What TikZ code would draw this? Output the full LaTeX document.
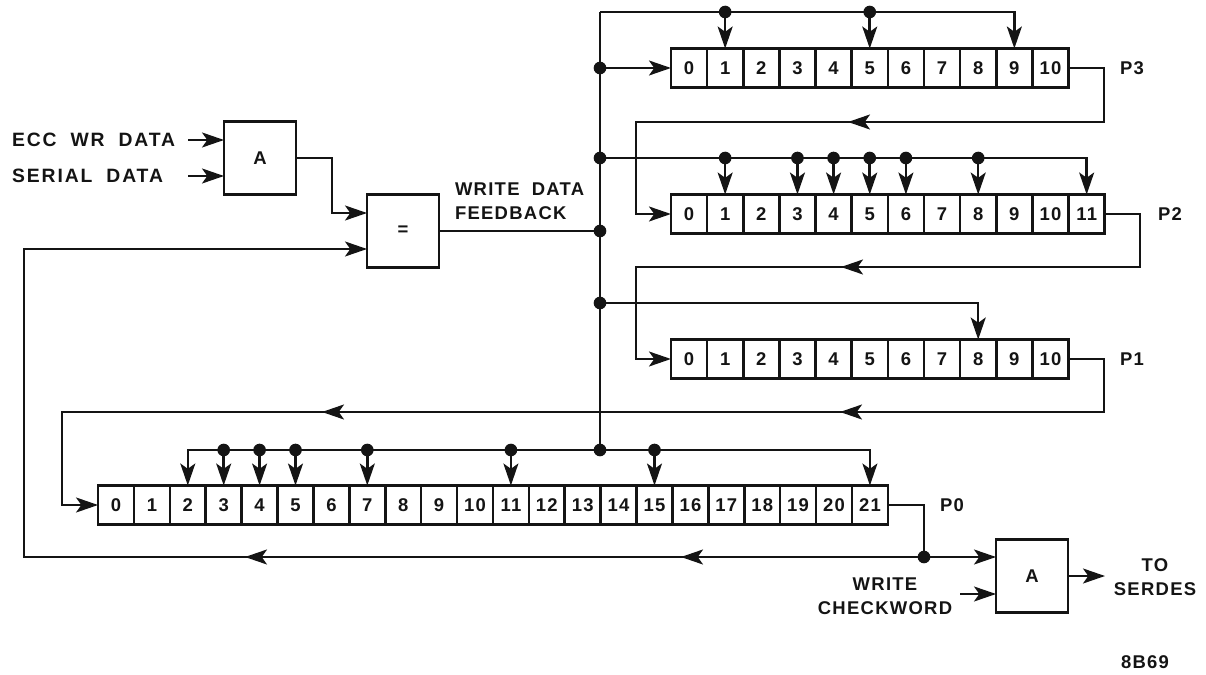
\documentclass[tikz,border=0pt]{standalone}
\usepackage{fontspec}
\setmainfont{Liberation Sans}[LetterSpace=7, WordSpace=1.9]
\usepackage{xcolor}
\usetikzlibrary{positioning, arrows.meta, calc}
\definecolor{inkcolor}{HTML}{141414}
\tikzset{
  wire/.style={draw=inkcolor, line width=1.45pt},
  arrowwire/.style={wire, -{Stealth[length=12.5pt, width=8.5pt, inset=3pt]}},
  cell/.style={draw=inkcolor, line width=1.45pt, fill=white, minimum width=0.722cm, minimum height=0.78cm, inner sep=0pt, outer sep=0pt, text=inkcolor},
  pcell/.style={cell, minimum width=0.718cm},
  gate/.style={draw=inkcolor, line width=1.45pt, fill=white, minimum width=1.44cm, minimum height=1.46cm, inner sep=0pt, outer sep=0pt, text=inkcolor},
  joint/.style={circle, fill=inkcolor, minimum size=7.2pt, inner sep=0pt, outer sep=0pt},
  lbl/.style={text=inkcolor, inner sep=0pt, outer sep=0pt, align=center},
  inlbl/.style={lbl, anchor=west, font=\fontsize{11}{13}\selectfont\bfseries\addfontfeature{LetterSpace=10}},
}
\begin{document}
\begin{tikzpicture}[x=0.02cm, y=-0.02cm, every node/.style={font=\fontsize{10.5}{12.5}\selectfont\bfseries}]
        \useasboundingbox (0,0) rectangle (1206,675);

        % Shift registers
        \foreach \i in {0,...,10} \node[cell] (p3c\i) at ({689+36.15*\i},68) {\i};
        \foreach \i in {0,...,11} \node[cell] (p2c\i) at ({689+36.15*\i},214) {\i};
        \foreach \i in {0,...,10} \node[cell] (p1c\i) at ({689+36.15*\i},359) {\i};
        \foreach \i in {0,...,21} \node[pcell] (p0c\i) at ({116+35.9*\i},505) {\i};

        % Gates
        \node[gate] (andin) at (260,158) {A};
        \node[gate] (eq) at (403,231) {=};
        \node[gate] (andout) at (1032,576) {A};

        % Labels
        \node[inlbl] (ecc) at (12,140) {ECC WR DATA};
        \node[inlbl] (serial) at (12,176) {SERIAL DATA};
        \node[lbl, anchor=west, align=left] (wdf) at (455,201) {WRITE DATA\\[1pt]FEEDBACK};
        \node[lbl, anchor=west] (lp3) at (1120,68) {P3};
        \node[lbl, anchor=west] (lp2) at (1158,214) {P2};
        \node[lbl, anchor=west] (lp1) at (1120,359) {P1};
        \node[lbl, anchor=west] (lp0) at (940,505) {P0};
        \node[lbl] (chk) at (885,596) {WRITE\\[1pt]CHECKWORD};
        \node[lbl] (serdes) at (1155,577) {TO\\[1pt]SERDES};
        \node[lbl] (fig) at (1145,662) {8B69};

        % Data bus
        \coordinate (bustop) at (600,12);
        \node[joint] (jp3) at (600,68) {};
        \node[joint] (j3) at (600,158) {};
        \node[joint] (jwd) at (600,231) {};
        \node[joint] (j1) at (600,303) {};
        \node[joint] (j0) at (600,450) {};
        \draw[wire] (bustop) -- (j0);
        \draw[wire] (eq) -- (jwd);

        % Taps -- P3
        \draw[arrowwire] (bustop) -| (p3c9.north);
        \foreach \c in {1,5} {
          \node[joint] (t3\c) at (p3c\c |- bustop) {};
          \draw[arrowwire] (t3\c) -- (p3c\c.north);
        }
        % Taps -- P2
        \draw[arrowwire] (j3) -| (p2c11.north);
        \foreach \c in {1,3,4,5,6,8} {
          \node[joint] (t2\c) at (p2c\c |- j3) {};
          \draw[arrowwire] (t2\c) -- (p2c\c.north);
        }
        % Taps -- P1
        \draw[arrowwire] (j1) -| (p1c8.north);
        % Taps -- P0
        \draw[arrowwire] (j0) -| (p0c2.north);
        \draw[arrowwire] (j0) -| (p0c21.north);
        \foreach \c in {3,4,5,7,11,15} {
          \node[joint] (t0\c) at (p0c\c |- j0) {};
          \draw[arrowwire] (t0\c) -- (p0c\c.north);
        }

        % Register chain
        \draw[arrowwire] (jp3) -- (p3c0.west);
        \coordinate (r3) at (1104,122);
        \coordinate (l3) at (636,122);
        \coordinate (m3) at (848,122);
        \draw[arrowwire] (p3c10.east) -| (r3) -- (l3) |- (p2c0.west);
        \draw[arrowwire] (r3) -- (m3);
        \coordinate (r2) at (1140,267);
        \coordinate (l2) at (636,267);
        \coordinate (m2) at (841,267);
        \draw[arrowwire] (p2c11.east) -| (r2) -- (l2) |- (p1c0.west);
        \draw[arrowwire] (r2) -- (m2);
        \coordinate (r1) at (1104,412);
        \coordinate (l1) at (62,412);
        \coordinate (m1) at (840,412);
        \coordinate (m0) at (322,412);
        \draw[arrowwire] (p1c10.east) -| (r1) -- (l1) |- (p0c0.west);
        \draw[arrowwire] (r1) -- (m1);
        \draw[arrowwire] (m1) -- (m0);

        % Feedback and output
        \node[joint] (jout) at (924,557) {};
        \coordinate (fl) at (24,557);
        \coordinate (m4) at (681,557);
        \coordinate (m5) at (245,557);
        \draw[wire] (p0c21.east) -| (jout);
        \draw[arrowwire] (jout) -- (fl) |- (eq.west |- 0,249);
        \draw[arrowwire] (jout) -- (m4);
        \draw[arrowwire] (m4) -- (m5);
        \draw[arrowwire] (jout) -- (andout.west |- jout);

        % Inputs
        \coordinate (eccin) at (188,140);
        \coordinate (serin) at (188,176);
        \coordinate (chkin) at (960,594);
        \coordinate (toout) at (1105,576);
        \draw[arrowwire] (eccin) -- (andin.west |- eccin);
        \draw[arrowwire] (serin) -- (andin.west |- serin);
        \draw[arrowwire] (andin) -| (332,213) -- (eq.west |- 0,213);
        \draw[arrowwire] (chkin) -- (andout.west |- chkin);
        \draw[arrowwire] (andout) -- (toout);
      \end{tikzpicture}
\end{document}
